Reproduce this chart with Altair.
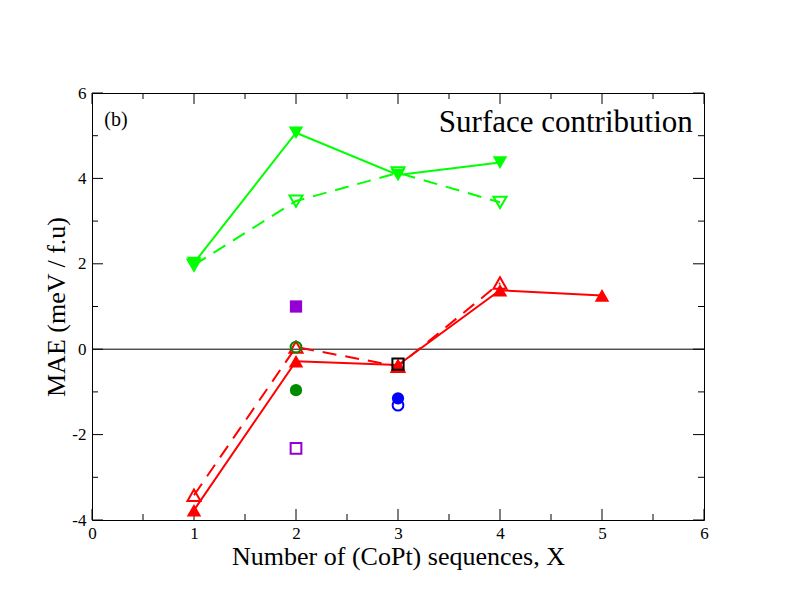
import altair as alt
import pandas as pd

# ---- data ----
x_vals_4 = [1, 2, 3, 4]
x_vals_5 = [1, 2, 3, 4, 5]

green_solid = [2.02, 5.07, 4.08, 4.37]      # filled down triangles, solid line
green_dashed = [1.97, 3.47, 4.13, 3.44]     # open down triangles, dashed line
red_solid = [-3.77, -0.28, -0.37, 1.38, 1.26]  # filled up triangles, solid line
red_dashed = [-3.42, 0.05, -0.40, 1.55]     # open up triangles, dashed line

violet_filled_sq = ([2], [1.00])
violet_open_sq = ([2], [-2.32])
dkgreen_filled_circ = ([2], [-0.96])
dkgreen_open_circ = ([2], [0.05])
blue_filled_circ = ([3], [-1.15])
blue_open_circ = ([3], [-1.31])
black_open_sq = ([3], [-0.35])

x_major = [0, 1, 2, 3, 4, 5, 6]
x_minor = [0.5, 1.5, 2.5, 3.5, 4.5, 5.5]
y_major = [-4, -2, 0, 2, 4, 6]
y_minor = [-3, -1, 1, 3, 5]

W, H = 612, 427
FONT = "Liberation Serif"

xscale = alt.Scale(domain=[0, 6], nice=False, zero=False)
yscale = alt.Scale(domain=[-4, 6], nice=False, zero=False)


def df(xs, ys):
    return pd.DataFrame({"x": xs, "y": ys})


xaxis = alt.Axis(values=x_major, labelExpr="'' + datum.value", tickSize=0, domain=False, grid=False,
                 labelFlush=False, labelOverlap=False,
                 labelFont=FONT, labelFontSize=17, labelColor="black", labelPadding=5,
                 title="Number of (CoPt) sequences, X", titleFont=FONT, titleFontSize=26,
                 titleFontWeight="normal", titleColor="black", titlePadding=2)
yaxis = alt.Axis(values=y_major, labelExpr="'' + datum.value", tickSize=0, domain=False, grid=False,
                 labelFlush=False, labelOverlap=False,
                 labelFont=FONT, labelFontSize=17, labelColor="black", labelPadding=6,
                 title="MAE (meV / f.u)", titleFont=FONT, titleFontSize=26,
                 titleFontWeight="normal", titleColor="black", titlePadding=2)


def X():
    return alt.X("x:Q", scale=xscale, axis=xaxis)


def Y():
    return alt.Y("y:Q", scale=yscale, axis=yaxis)


layers = []

# zero line
layers.append(alt.Chart(pd.DataFrame({"x": [0, 6], "y": [0, 0]})).mark_line(color="black", strokeWidth=1)
              .encode(x=X(), y=Y()))

# ticks (inward on all four sides)
xt_major = pd.DataFrame({"x": x_major})
xt_minor = pd.DataFrame({"x": x_minor})
yt_major = pd.DataFrame({"y": y_major})
yt_minor = pd.DataFrame({"y": y_minor})
for d, ln in [(xt_major, 11), (xt_minor, 6)]:
    layers.append(alt.Chart(d).mark_rule(color="black", strokeWidth=1)
                  .encode(x=X(), y=alt.value(H), y2=alt.value(H - ln)))
    layers.append(alt.Chart(d).mark_rule(color="black", strokeWidth=1)
                  .encode(x=X(), y=alt.value(0), y2=alt.value(ln)))
for d, ln in [(yt_major, 11), (yt_minor, 6)]:
    layers.append(alt.Chart(d).mark_rule(color="black", strokeWidth=1)
                  .encode(y=Y(), x=alt.value(0), x2=alt.value(ln)))
    layers.append(alt.Chart(d).mark_rule(color="black", strokeWidth=1)
                  .encode(y=Y(), x=alt.value(W), x2=alt.value(W - ln)))


def series(xs, ys, color, shape, filled, dashed, size=210):
    d = df(xs, ys)
    line_kw = dict(color=color, strokeWidth=2)
    if dashed:
        line_kw["strokeDash"] = [14, 9]
    ln = alt.Chart(d).mark_line(**line_kw).encode(x=X(), y=Y())
    pt = alt.Chart(d).mark_point(shape=shape, filled=filled, size=size, color=color,
                                 opacity=1, strokeWidth=2).encode(x=X(), y=Y())
    return [ln, pt]


def points(xy, color, shape, filled, size=150):
    d = df(*xy)
    return alt.Chart(d).mark_point(shape=shape, filled=filled, size=size, color=color,
                                   opacity=1, strokeWidth=2).encode(x=X(), y=Y())


RED = "#ff0000"
GREEN = "#00ff00"
layers += series(x_vals_5, red_solid, RED, "triangle-up", True, False)
layers += series(x_vals_4, red_dashed, RED, "triangle-up", False, True, size=170)
layers += series(x_vals_4, green_solid, GREEN, "triangle-down", True, False)
layers += series(x_vals_4, green_dashed, GREEN, "triangle-down", False, True, size=170)

layers.append(points(violet_filled_sq, "#9400d3", "square", True))
layers.append(points(violet_open_sq, "#9400d3", "square", False, size=115))
layers.append(points(dkgreen_filled_circ, "#008b00", "circle", True))
layers.append(points(dkgreen_open_circ, "#008b00", "circle", False, size=115))
layers.append(points(blue_filled_circ, "#0000ff", "circle", True))
layers.append(points(blue_open_circ, "#0000ff", "circle", False, size=115))
layers.append(points(black_open_sq, "#000000", "square", False, size=125))

# annotations
layers.append(alt.Chart(pd.DataFrame({"x": [5.89], "y": [5.08], "t": ["Surface contribution"]}))
              .mark_text(font=FONT, fontSize=31, align="right", baseline="alphabetic", color="black")
              .encode(x=X(), y=Y(), text="t:N"))
layers.append(alt.Chart(pd.DataFrame({"x": [0.12], "y": [5.22], "t": ["(b)"]}))
              .mark_text(font=FONT, fontSize=20, align="left", baseline="alphabetic", color="black")
              .encode(x=X(), y=Y(), text="t:N"))

chart = (alt.layer(*layers)
         .properties(width=W, height=H, autosize=alt.AutoSizeParams(type="none"),
                     padding={"left": 84, "top": 85, "right": 80, "bottom": 84},
                     background="white")
         .configure_view(stroke="black", strokeWidth=1))

chart.save("out.html", embed_options={"renderer": "svg", "actions": False})
